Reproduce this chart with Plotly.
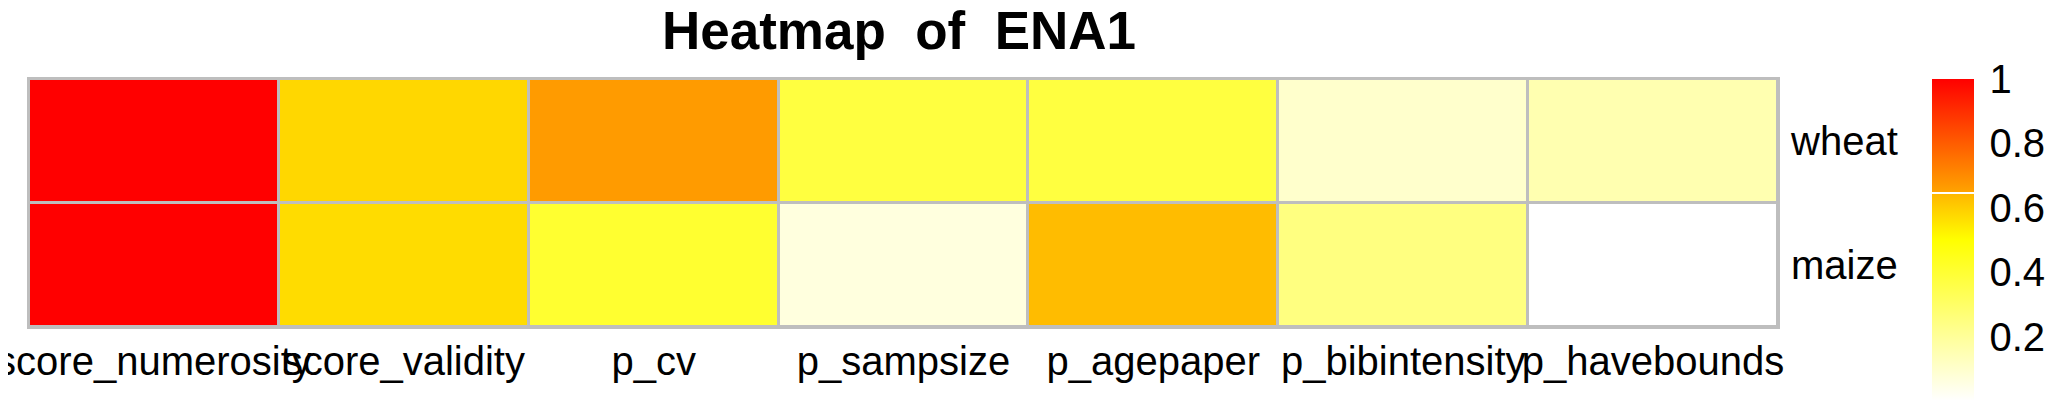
import plotly.graph_objects as go

# ---- data ----
metrics = ["score_numerosity", "score_validity", "p_cv", "p_sampsize",
           "p_agepaper", "p_bibintensity", "p_havebounds"]
crops = ["wheat", "maize"]
wheat_vals = [1.00, 0.58, 0.665, 0.375, 0.375, 0.10, 0.155]
maize_vals = [1.00, 0.57, 0.405, 0.065, 0.635, 0.25, 0.00]
cbar_ticks = [0, 0.2, 0.4, 0.6, 0.8, 1]
cbar_labels = ["0", "0.2", "0.4", "0.6", "0.8", "1"]

colorscale = [
    [0.0, "#FFFFFF"],
    [0.5, "#FFFF00"],
    [0.642, "#FFB800"],
    [0.642, "#FFFFFF"],
    [0.648, "#FFFFFF"],
    [0.648, "#FFA300"],
    [1.0, "#FF0000"],
]

W, H = 2067, 400
OFF = 8  # page body margin offset
L = 29 - OFF
T = 79 - OFF
R = W - (1778 - OFF)
B = H - (327 - OFF)
FONT = "Liberation Sans, Arial, Helvetica, sans-serif"
plot_w = W - L - R

fig = go.Figure(go.Heatmap(
    z=[wheat_vals, maize_vals],
    x=metrics,
    y=crops,
    zmin=0, zmax=1,
    colorscale=colorscale,
    xgap=3, ygap=3,
    colorbar=dict(
        thickness=42,
        lenmode="pixels", len=322,
        x=(1932 - OFF - L) / plot_w, xanchor="left", xpad=0,
        y=1, yanchor="top", ypad=0,
        outlinewidth=0,
        tickvals=cbar_ticks, ticktext=cbar_labels,
        ticks="outside", ticklen=8, tickcolor="rgba(0,0,0,0)",
        tickfont=dict(family=FONT, size=40, color="black"),
    ),
))

fig.update_layout(
    width=W, height=H,
    margin=dict(l=L, r=R, t=T, b=B, autoexpand=False),
    paper_bgcolor="white",
    plot_bgcolor="#BEBEBE",
    title=dict(
        text="<b>Heatmap  of  ENA1</b>",
        x=(899 - OFF) / W, xanchor="center", xref="container",
        y=1 - 22 / H, yanchor="middle", yref="container",
        font=dict(family=FONT, size=53, color="black"),
    ),
    xaxis=dict(
        tickangle=0, showgrid=False, zeroline=False, automargin=False,
        showline=True, mirror=True, linecolor="#BEBEBE", linewidth=2,
        ticks="", ticklabelstandoff=-2,
        tickfont=dict(family=FONT, size=40, color="black"),
    ),
    yaxis=dict(
        side="right", autorange="reversed", showgrid=False, zeroline=False,
        automargin=False,
        showline=True, mirror=True, linecolor="#BEBEBE", linewidth=2,
        ticks="outside", ticklen=3, tickcolor="rgba(0,0,0,0)",
        tickfont=dict(family=FONT, size=40, color="black"),
    ),
)

fig.write_html("out.html")
